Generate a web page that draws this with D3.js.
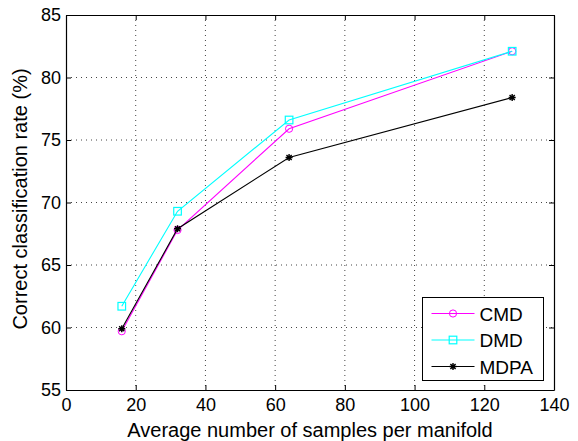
<!DOCTYPE html>
<html>
<head>
<meta charset="utf-8">
<script src="https://cdn.jsdelivr.net/npm/d3@7"></script>
<style>
  body { margin: 0; background: #fff; }
  svg text { font-family: "Liberation Sans", Arial, Helvetica, sans-serif; fill: #000; }
</style>
</head>
<body>
<div id="chart"></div>
<script>
// Data
const samples = [16, 32, 64, 128];
const cmd = [59.7, 67.8, 75.9, 82.1];
const dmd = [61.7, 69.3, 76.6, 82.1];
const mdpa = [59.9, 67.9, 73.6, 78.4];
const xTicks = [0, 20, 40, 60, 80, 100, 120, 140];
const yTicks = [55, 60, 65, 70, 75, 80, 85];

const series = [
    { name: "CMD", values: cmd, color: "#ff00ff", marker: "circle" },
    { name: "DMD", values: dmd, color: "#00ffff", marker: "square" },
    { name: "MDPA", values: mdpa, color: "#000000", marker: "star" }
];

const W = 578, H = 441;
const margin = { top: 15, right: 24, bottom: 51, left: 66 };
const width = W - margin.left - margin.right,
      height = H - margin.top - margin.bottom;

const svg = d3.select("#chart")
    .append("svg")
    .attr("width", W)
    .attr("height", H);

const g = svg.append("g")
    .attr("transform", `translate(${margin.left},${margin.top})`);

const x = d3.scaleLinear().domain([0, 140]).range([0, width]);
const y = d3.scaleLinear().domain([55, 85]).range([height, 0]);

// Dotted grid
g.selectAll(".vgrid")
    .data(xTicks.slice(1, -1))
    .enter().append("line")
    .attr("x1", d => x(d)).attr("x2", d => x(d))
    .attr("y1", 0).attr("y2", height)
    .attr("stroke", "#444")
    .attr("stroke-width", 1)
    .attr("stroke-dasharray", "1,4");

g.selectAll(".hgrid")
    .data(yTicks.slice(1, -1))
    .enter().append("line")
    .attr("x1", 0).attr("x2", width)
    .attr("y1", d => y(d)).attr("y2", d => y(d))
    .attr("stroke", "#444")
    .attr("stroke-width", 1)
    .attr("stroke-dasharray", "1,4");

// Axes with inward ticks on all four sides
const tickLen = 5;
g.append("g")
    .attr("transform", `translate(0,${height})`)
    .call(d3.axisBottom(x).tickValues(xTicks).tickSizeInner(-tickLen).tickSizeOuter(0).tickPadding(8));
g.append("g")
    .call(d3.axisTop(x).tickValues(xTicks).tickSizeInner(-tickLen).tickSizeOuter(0).tickFormat(""));
g.append("g")
    .call(d3.axisLeft(y).tickValues(yTicks).tickSizeInner(-tickLen).tickSizeOuter(0).tickPadding(5));
g.append("g")
    .attr("transform", `translate(${width},0)`)
    .call(d3.axisRight(y).tickValues(yTicks).tickSizeInner(-tickLen).tickSizeOuter(0).tickFormat(""));

g.selectAll(".domain").attr("stroke", "#000").attr("stroke-width", 1.2);
g.selectAll(".tick line").attr("stroke", "#000");
g.selectAll(".tick text").style("font-size", "18px").attr("fill", "#000");

// Lines and markers
const line = d3.line()
    .x((d, i) => x(samples[i]))
    .y(d => y(d));

function drawMarker(sel, type, color) {
    if (type === "circle") {
        sel.append("circle").attr("r", 3.6)
            .attr("fill", "none").attr("stroke", color).attr("stroke-width", 1);
    } else if (type === "square") {
        sel.append("rect").attr("x", -3.8).attr("y", -3.8)
            .attr("width", 7.6).attr("height", 7.6)
            .attr("fill", "none").attr("stroke", color).attr("stroke-width", 1.2);
    } else {
        sel.append("path")
            .attr("d", "M-3.5,0L3.5,0M0,-3.5L0,3.5M-2.6,-2.6L2.6,2.6M-2.6,2.6L2.6,-2.6")
            .attr("stroke", color).attr("stroke-width", 1.4);
    }
}

series.forEach(s => {
    g.append("path")
        .datum(s.values)
        .attr("fill", "none")
        .attr("stroke", s.color)
        .attr("stroke-width", 1.1)
        .attr("d", line);
    g.selectAll(null)
        .data(s.values)
        .enter().append("g")
        .attr("transform", (d, i) => `translate(${x(samples[i])},${y(d)})`)
        .each(function () { drawMarker(d3.select(this), s.marker, s.color); });
});

// Legend
const legend = g.append("g")
    .attr("transform", `translate(${422.5 - margin.left},${297.5 - margin.top})`);
legend.append("rect")
    .attr("width", 121).attr("height", 83)
    .attr("fill", "#fff").attr("stroke", "#000").attr("stroke-width", 1);
series.forEach((s, i) => {
    const row = legend.append("g").attr("transform", `translate(0,${16 + i * 26.5})`);
    row.append("line")
        .attr("x1", 9).attr("x2", 52)
        .attr("stroke", s.color).attr("stroke-width", 1.1);
    drawMarker(row.append("g").attr("transform", "translate(30.5,0)"), s.marker, s.color);
    row.append("text")
        .attr("x", 57).attr("y", 7)
        .style("font-size", "19px")
        .text(s.name);
});

// Axis labels
svg.append("text")
    .attr("x", margin.left + width / 2)
    .attr("y", 437)
    .attr("text-anchor", "middle")
    .style("font-size", "20px")
    .text("Average number of samples per manifold");

svg.append("text")
    .attr("transform", "translate(27,199) rotate(-90)")
    .attr("text-anchor", "middle")
    .style("font-size", "20px")
    .text("Correct classification rate (%)");
</script>
</body>
</html>
